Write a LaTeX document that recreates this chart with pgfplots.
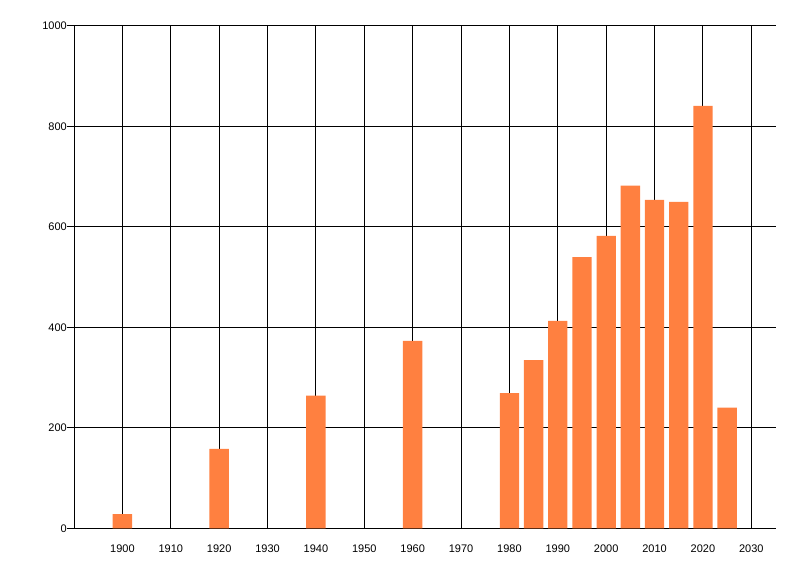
\documentclass[border=0pt]{standalone}
\usepackage{pgfplots}
\pgfplotsset{compat=1.18}
\usepackage{fontspec}
\setmainfont{Liberation Sans}
\definecolor{barorange}{RGB}{255,128,64}
\begin{document}
\begin{tikzpicture}[x=1bp,y=1bp]
\path[use as bounding box] (-75bp,-47.7bp) rectangle (725bp,528.3bp);
\begin{axis}[
  at={(0,0)}, anchor=south west,
  scale only axis,
  width=700.5bp, height=502.3bp,
  xmin=1890.2, xmax=2035,
  ymin=0, ymax=1000,
  axis x line=bottom, axis y line=left,
  axis line style={-, line width=1bp, black},
  xtick={1900,1910,...,2030},
  ytick={0,200,...,1000},
  grid=major,
  major grid style={line width=1bp, black},
  xtick style={draw=none},
  ytick style={line width=1bp, black},
  tick align=outside,
  major tick length=8bp,
  xticklabel style={font=\fontsize{11bp}{12bp}\selectfont, inner sep=0pt, yshift=-8.5bp},
  yticklabel style={font=\fontsize{11bp}{12bp}\selectfont, inner sep=0pt, anchor=east},
  /pgf/number format/assume math mode=true,
  /pgf/number format/1000 sep={},
  ybar, bar width=4,
]
\addplot[fill=barorange, draw=none] coordinates {
(1900,28) (1920,158) (1940,264) (1960,373) (1980,269) (1985,335) (1990,413)
(1995,540) (2000,582) (2005,682) (2010,654) (2015,650) (2020,841) (2025,240)
};
\end{axis}
\end{tikzpicture}
\end{document}
